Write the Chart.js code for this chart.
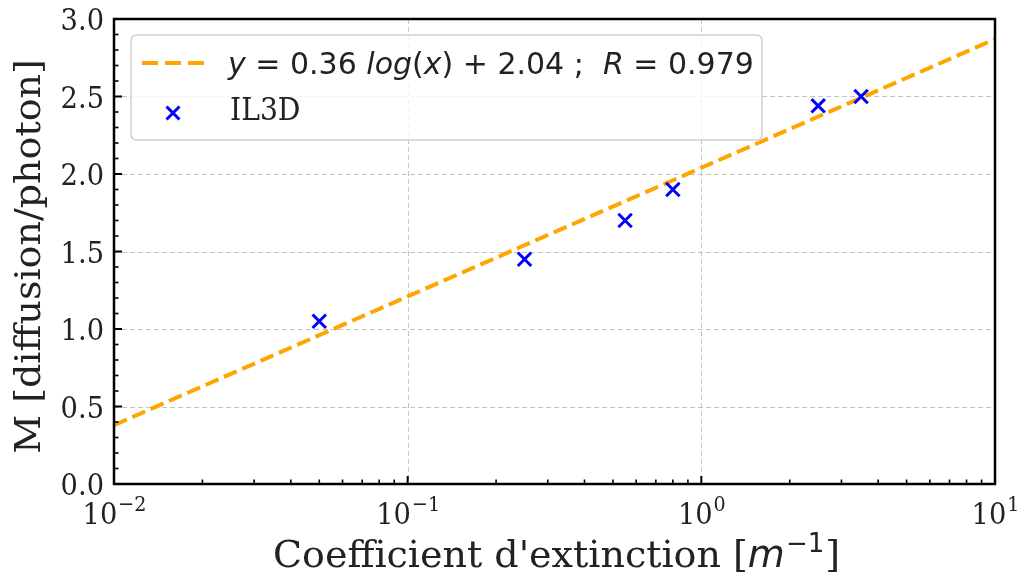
<!DOCTYPE html>
<html>
<head>
<meta charset="utf-8">
<script src="https://cdn.jsdelivr.net/npm/chart.js@4/dist/chart.umd.min.js"></script>
<style>
html,body{margin:0;padding:0;background:#fff;}
canvas{display:block;}
</style>
</head>
<body>
<canvas id="c" width="1022" height="580"></canvas>
<script>
// ---- data ----
const extinction = [0.05, 0.25, 0.55, 0.8, 2.5, 3.5];
const diffusionM = [1.05, 1.45, 1.70, 1.90, 2.44, 2.50];
const fitX = [0.01, 10];
const fitY = [0.38, 2.87];
const seriesLabels = ["IL3D"];
const fitLabelParts = [["y","i"],[" = ","r"],["0.36","r"],[" ","r"],["log","i"],["(","r"],["x","i"],[")","r"],[" + ","r"],["2.04","r"],[" ; ","r"],[" ","r"],["R","i"],[" = ","r"],["0.979","r"]];
const yTicks = [0.0, 0.5, 1.0, 1.5, 2.0, 2.5, 3.0];
const xTickExps = [-2, -1, 0, 1];
const xTitle = "Coefficient d'extinction [";
const yTitle = "M [diffusion/photon]";

const SX = 0.91; // horizontal text compression for serif labels

function drawText(ctx, text, x, y, font, align, sx) {
  if (sx === undefined) sx = SX;
  ctx.save();
  ctx.font = font;
  ctx.textAlign = "left";
  ctx.textBaseline = "alphabetic";
  const w = ctx.measureText(text).width * sx;
  let x0 = x;
  if (align === "center") x0 = x - w / 2;
  else if (align === "right") x0 = x - w;
  ctx.translate(x0, y);
  ctx.scale(sx, 1);
  ctx.fillText(text, 0, 0);
  ctx.restore();
  return w;
}
function measure(ctx, text, font, sx) {
  if (sx === undefined) sx = SX;
  ctx.save(); ctx.font = font; const w = ctx.measureText(text).width * sx; ctx.restore(); return w;
}

const decor = {
  id: "decor",
  beforeDatasetsDraw(chart) {
    const ctx = chart.ctx, a = chart.chartArea;
    const xs = chart.scales.x, ys = chart.scales.y;
    ctx.save();
    ctx.strokeStyle = "#c4c4c4";
    ctx.lineWidth = 1;
    ctx.setLineDash([5, 3]);
    xTickExps.forEach(e => {
      const px = Math.round(xs.getPixelForValue(Math.pow(10, e))) + 0.5;
      ctx.beginPath(); ctx.moveTo(px, a.top); ctx.lineTo(px, a.bottom); ctx.stroke();
    });
    yTicks.forEach(v => {
      const py = Math.round(ys.getPixelForValue(v)) + 0.5;
      ctx.beginPath(); ctx.moveTo(a.left, py); ctx.lineTo(a.right, py); ctx.stroke();
    });
    ctx.restore();
  },
  afterDraw(chart) {
    const ctx = chart.ctx, a = chart.chartArea;
    const xs = chart.scales.x, ys = chart.scales.y;
    ctx.save();
    ctx.strokeStyle = "#000";
    ctx.setLineDash([]);
    for (let i = 0; i <= 30; i++) {
      const v = i / 10;
      const py = ys.getPixelForValue(v);
      const len = (i % 5 === 0) ? 8 : 4.5;
      ctx.lineWidth = (i % 5 === 0) ? 2 : 1.6;
      ctx.beginPath(); ctx.moveTo(a.left, py); ctx.lineTo(a.left + len, py); ctx.stroke();
    }
    for (let e = -2; e <= 1; e++) {
      const base = Math.pow(10, e);
      for (let m = 1; m <= 9; m++) {
        const v = base * m;
        if (v > 10.0001) break;
        const px = xs.getPixelForValue(v);
        const len = (m === 1) ? 8 : 4.5;
        ctx.lineWidth = (m === 1) ? 2 : 1.6;
        ctx.beginPath(); ctx.moveTo(px, a.bottom); ctx.lineTo(px, a.bottom - len); ctx.stroke();
      }
    }
    ctx.lineWidth = 2.5;
    ctx.strokeRect(a.left, a.top, a.right - a.left, a.bottom - a.top);

    // tick labels
    ctx.fillStyle = "#222";
    const tickFont = "30px 'DejaVu Serif'";
    yTicks.forEach(v => {
      const py = ys.getPixelForValue(v);
      drawText(ctx, v.toFixed(1), a.left - 10, py + 11, tickFont, "right");
    });
    const supFont = "21px 'DejaVu Serif'";
    xTickExps.forEach(e => {
      const px = xs.getPixelForValue(Math.pow(10, e));
      const sup = (e < 0 ? "\u2212" : "") + Math.abs(e);
      const w1 = measure(ctx, "10", tickFont), w2 = measure(ctx, sup, supFont);
      const x0 = px - (w1 + w2) / 2;
      drawText(ctx, "10", x0, 524, tickFont, "left");
      drawText(ctx, sup, x0 + w1 + 1, 511, supFont, "left");
    });

    // x title (no compression)
    const titleFont = "38px 'DejaVu Serif'";
    const mFont = "italic 38px 'DejaVu Sans'";
    const supT = "26px 'DejaVu Sans'";
    const w1 = measure(ctx, xTitle, titleFont, 1);
    const wm = measure(ctx, "m", mFont, 1);
    const ws = measure(ctx, "\u22121", supT, 1);
    const wb = measure(ctx, "]", titleFont, 1);
    const cx = (a.left + a.right) / 2 + 2;
    let x0 = cx - (w1 + wm + ws + wb + 2) / 2;
    const by = 567;
    drawText(ctx, xTitle, x0, by, titleFont, "left", 1); x0 += w1;
    drawText(ctx, "m", x0, by, mFont, "left", 1); x0 += wm + 1;
    drawText(ctx, "\u22121", x0, by - 15, supT, "left", 1); x0 += ws + 1;
    drawText(ctx, "]", x0, by, titleFont, "left", 1);

    // y title rotated
    ctx.save();
    ctx.font = titleFont;
    ctx.translate(40, (a.top + a.bottom) / 2 + 5);
    ctx.scale(SX, 1);
    ctx.rotate(-Math.PI / 2);
    ctx.textAlign = "center";
    ctx.textBaseline = "alphabetic";
    ctx.fillText(yTitle, 0, 0);
    ctx.restore();

    // legend box
    const L = 131, T = 35, R = 762, B = 140, rad = 6;
    ctx.beginPath();
    ctx.moveTo(L + rad, T); ctx.lineTo(R - rad, T); ctx.quadraticCurveTo(R, T, R, T + rad);
    ctx.lineTo(R, B - rad); ctx.quadraticCurveTo(R, B, R - rad, B);
    ctx.lineTo(L + rad, B); ctx.quadraticCurveTo(L, B, L, B - rad);
    ctx.lineTo(L, T + rad); ctx.quadraticCurveTo(L, T, L + rad, T);
    ctx.closePath();
    ctx.fillStyle = "rgba(255,255,255,0.8)";
    ctx.fill();
    ctx.strokeStyle = "#d0d0d0";
    ctx.lineWidth = 1.5;
    ctx.stroke();
    ctx.strokeStyle = "#ffa500";
    ctx.lineWidth = 4;
    ctx.setLineDash([16, 7]);
    ctx.beginPath(); ctx.moveTo(142, 63); ctx.lineTo(205, 63); ctx.stroke();
    ctx.setLineDash([]);
    ctx.fillStyle = "#222";
    let tx = 228;
    fitLabelParts.forEach(p => {
      const f = (p[1] === "i" ? "italic " : "") + "30px 'DejaVu Sans'";
      tx += drawText(ctx, p[0], tx, 74, f, "left", 1);
    });
    ctx.strokeStyle = "#0000ff";
    ctx.lineWidth = 3;
    const mx = 173, my = 113, r = 6.5;
    ctx.beginPath();
    ctx.moveTo(mx - r, my - r); ctx.lineTo(mx + r, my + r);
    ctx.moveTo(mx + r, my - r); ctx.lineTo(mx - r, my + r);
    ctx.stroke();
    ctx.fillStyle = "#222";
    drawText(ctx, seriesLabels[0], 230, 120, "31px 'DejaVu Serif'", "left");
    ctx.restore();
  }
};

new Chart(document.getElementById("c"), {
  type: "scatter",
  data: {
    datasets: [
      {
        label: seriesLabels[0],
        data: extinction.map((x, i) => ({ x: x, y: diffusionM[i] })),
        pointStyle: "crossRot",
        pointRadius: 9.5,
        pointHoverRadius: 9.5,
        pointBorderWidth: 3,
        borderColor: "#0000ff",
        backgroundColor: "#0000ff",
        showLine: false
      },
      {
        label: "fit",
        data: fitX.map((x, i) => ({ x: x, y: fitY[i] })),
        showLine: true,
        borderColor: "#ffa500",
        borderWidth: 4,
        borderDash: [14, 6],
        pointRadius: 0,
        fill: false
      }
    ]
  },
  options: {
    responsive: false,
    animation: false,
    devicePixelRatio: 1,
    layout: { padding: { left: 114, top: 19, right: 27, bottom: 96 } },
    plugins: { legend: { display: false }, tooltip: { enabled: false } },
    scales: {
      x: {
        type: "logarithmic", min: 0.01, max: 10,
        ticks: { display: false }, grid: { display: false }, border: { display: false },
        afterFit: s => { s.height = 0; }
      },
      y: {
        type: "linear", min: 0, max: 3,
        ticks: { display: false }, grid: { display: false }, border: { display: false },
        afterFit: s => { s.width = 0; }
      }
    }
  },
  plugins: [decor]
});
</script>
</body>
</html>
